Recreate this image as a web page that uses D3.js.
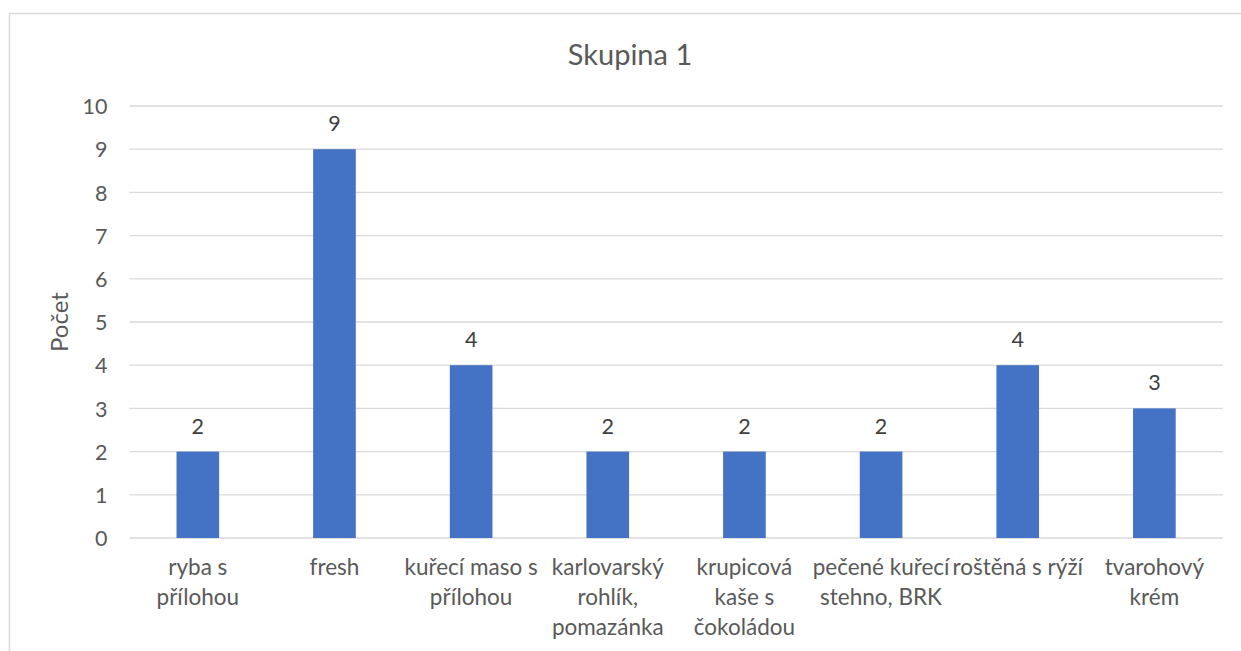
<!DOCTYPE html>
<html>
<head>
<meta charset="utf-8">
<script src="https://cdn.jsdelivr.net/npm/d3@7"></script>
<style>
  html, body { margin: 0; padding: 0; background: #ffffff; }
  svg { display: block; }
  text { font-family: Lato, "Open Sans", sans-serif; fill: #595959; }
</style>
</head>
<body>
<svg id="chart" width="1241" height="651"></svg>
<script>
// Chart data
const title = "Skupina 1";
const yTitle = "Počet";
const categories = [
  "ryba s přílohou",
  "fresh",
  "kuřecí maso s přílohou",
  "karlovarský rohlík, pomazánka",
  "krupicová kaše s čokoládou",
  "pečené kuřecí stehno, BRK",
  "roštěná s rýží",
  "tvarohový krém"
];
// Category labels as they wrap under each bar
const categoryLines = [
  ["ryba s", "přílohou"],
  ["fresh"],
  ["kuřecí maso s", "přílohou"],
  ["karlovarský", "rohlík,", "pomazánka"],
  ["krupicová", "kaše s", "čokoládou"],
  ["pečené kuřecí", "stehno, BRK"],
  ["roštěná s rýží"],
  ["tvarohový", "krém"]
];
const values = [2, 9, 4, 2, 2, 2, 4, 3];
const yTicks = [0, 1, 2, 3, 4, 5, 6, 7, 8, 9, 10];

const svg = d3.select("#chart");
const W = 1241, H = 651;

// Outer chart frame
svg.append("rect")
  .attr("x", 9.5).attr("y", 13.5)
  .attr("width", W + 20).attr("height", H + 20)
  .attr("fill", "#ffffff")
  .attr("stroke", "#d9d9d9").attr("stroke-width", 1.5);

const plot = { left: 129.5, right: 1222.7, top: 106, bottom: 538 };

const x = d3.scaleBand()
  .domain(categories)
  .range([plot.left, plot.right])
  .padding(0);

const y = d3.scaleLinear()
  .domain([0, 10])
  .range([plot.bottom, plot.top]);

const barWidth = x.bandwidth() * 0.312;

// Gridlines
svg.append("g")
  .selectAll("line")
  .data(yTicks)
  .join("line")
  .attr("x1", plot.left).attr("x2", plot.right)
  .attr("y1", d => y(d)).attr("y2", d => y(d))
  .attr("stroke", "#d9d9d9").attr("stroke-width", 1.3);

// Y axis tick labels
const yAxis = d3.axisLeft(y).tickValues(yTicks).tickSize(0).tickPadding(0);
const yg = svg.append("g")
  .attr("transform", `translate(${plot.left - 22},0)`)
  .call(yAxis);
yg.select(".domain").remove();
yg.selectAll("text")
  .attr("font-size", 21.5)
  .attr("dy", "0.36em")
  .style("fill", "#595959")
  .style("font-family", "Lato, 'Open Sans', sans-serif");

// Bars
svg.append("g")
  .selectAll("rect")
  .data(values)
  .join("rect")
  .attr("x", (d, i) => x(categories[i]) + x.bandwidth() / 2 - barWidth / 2)
  .attr("y", d => y(d))
  .attr("width", barWidth)
  .attr("height", d => y(0) - y(d))
  .attr("fill", "#4472c4");

// Value labels above bars
svg.append("g")
  .selectAll("text")
  .data(values)
  .join("text")
  .attr("x", (d, i) => x(categories[i]) + x.bandwidth() / 2)
  .attr("y", d => y(d) - 18)
  .attr("text-anchor", "middle")
  .attr("font-size", 21.5)
  .style("fill", "#404040")
  .text(d => d);

// Category labels
const xg = svg.append("g");
categories.forEach((c, i) => {
  const t = xg.append("text")
    .attr("x", x(c) + x.bandwidth() / 2)
    .attr("y", 575)
    .attr("text-anchor", "middle")
    .attr("font-size", 22.5);
  categoryLines[i].forEach((line, j) => {
    t.append("tspan")
      .attr("x", x(c) + x.bandwidth() / 2)
      .attr("y", 575 + j * 30)
      .text(line);
  });
});

// Chart title
svg.append("text")
  .attr("x", 630)
  .attr("y", 65)
  .attr("text-anchor", "middle")
  .attr("font-size", 29)
  .text(title);

// Y axis title
svg.append("text")
  .attr("transform", "translate(68,322) rotate(-90)")
  .attr("text-anchor", "middle")
  .attr("font-size", 24)
  .text(yTitle);
</script>
</body>
</html>
